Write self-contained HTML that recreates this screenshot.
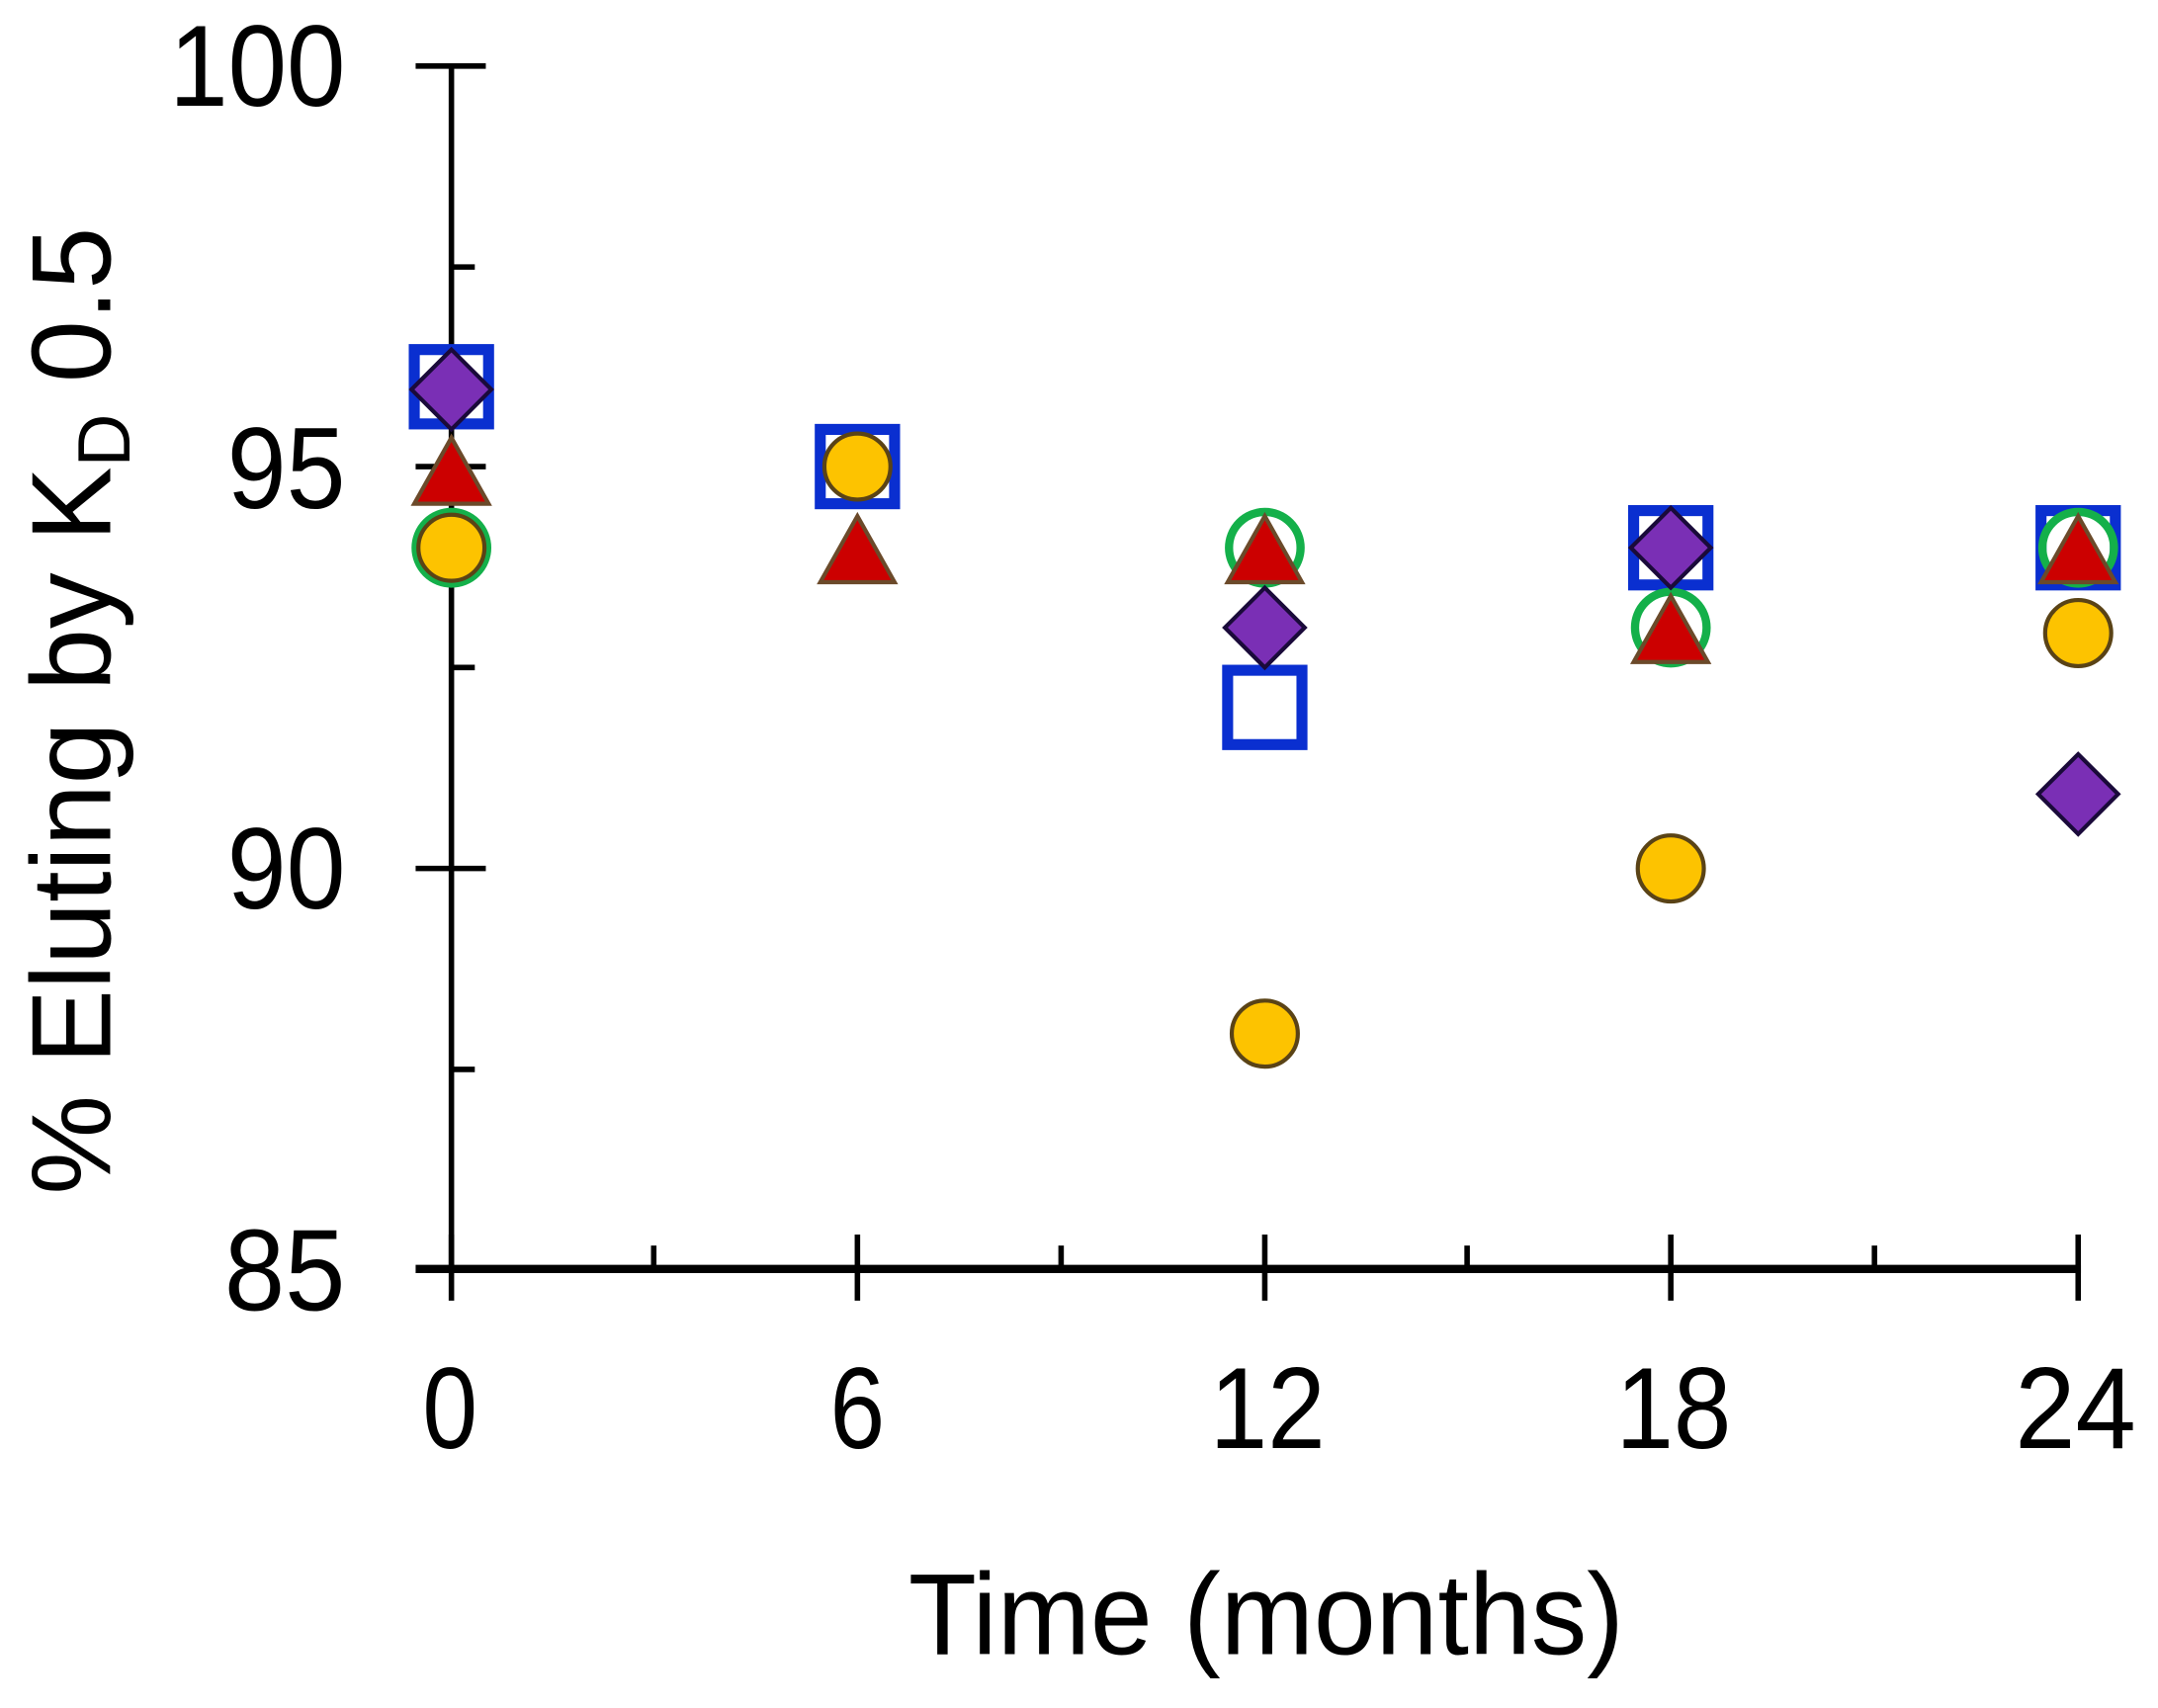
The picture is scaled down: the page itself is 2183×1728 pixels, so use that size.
<!DOCTYPE html>
<html><head><meta charset="utf-8"><style>
html,body{margin:0;padding:0;background:#fff;}
svg{display:block;}
text{font-family:"Liberation Sans",sans-serif;fill:#000;}
</style></head><body>
<svg width="2183" height="1728" viewBox="0 0 1568 1241" preserveAspectRatio="none" xmlns="http://www.w3.org/2000/svg">
<rect width="1568" height="1241" fill="#fff"/>
<g stroke="#000" stroke-width="4" fill="none">
<line x1="328" y1="48" x2="328" y2="924"/>
<line x1="302" y1="922" x2="1512" y2="922" stroke-width="6"/>
<line x1="302" y1="48" x2="353" y2="48"/>
<line x1="302" y1="339" x2="353" y2="339"/>
<line x1="302" y1="631" x2="353" y2="631"/>
<line x1="328" y1="194" x2="345" y2="194"/>
<line x1="328" y1="485" x2="345" y2="485"/>
<line x1="328" y1="777" x2="345" y2="777"/>
<line x1="328" y1="897" x2="328" y2="945"/>
<line x1="623" y1="897" x2="623" y2="945"/>
<line x1="919" y1="897" x2="919" y2="945"/>
<line x1="1214" y1="897" x2="1214" y2="945"/>
<line x1="1510" y1="897" x2="1510" y2="945"/>
<line x1="475" y1="905" x2="475" y2="922"/>
<line x1="771" y1="905" x2="771" y2="922"/>
<line x1="1066" y1="905" x2="1066" y2="922"/>
<line x1="1362" y1="905" x2="1362" y2="922"/>
</g>
<g font-size="84" text-anchor="end">
<text x="251" y="77" textLength="128" lengthAdjust="spacingAndGlyphs">100</text>
<text x="251" y="369" textLength="86" lengthAdjust="spacingAndGlyphs">95</text>
<text x="251" y="660" textLength="86" lengthAdjust="spacingAndGlyphs">90</text>
<text x="251" y="952" textLength="88" lengthAdjust="spacingAndGlyphs">85</text>
</g>
<g font-size="84" text-anchor="middle">
<text x="327" y="1052" textLength="40" lengthAdjust="spacingAndGlyphs">0</text>
<text x="623" y="1052" textLength="40" lengthAdjust="spacingAndGlyphs">6</text>
<text x="921" y="1052" textLength="84" lengthAdjust="spacingAndGlyphs">12</text>
<text x="1216" y="1052" textLength="84" lengthAdjust="spacingAndGlyphs">18</text>
<text x="1508" y="1052" textLength="88" lengthAdjust="spacingAndGlyphs">24</text>
<text x="920" y="1202" textLength="520" lengthAdjust="spacingAndGlyphs">Time (months)</text>
</g>
<text transform="translate(80,868) rotate(-90)" font-size="82" textLength="703" lengthAdjust="spacingAndGlyphs">% Eluting by K<tspan font-size="54" dy="14">D</tspan><tspan dy="-14"> 0.5</tspan></text>

<defs>
<g id="sq"><rect x="-27" y="-27" width="54" height="54" fill="none" stroke="#0a2fd0" stroke-width="8"/></g>
<g id="gc"><circle r="26" fill="none" stroke="#14b04a" stroke-width="6"/></g>
<g id="tr"><polygon points="0,-25 27,23 -27,23" fill="#cc0000" stroke="#6b4a2a" stroke-width="3"/></g>
<g id="yc"><circle r="24" fill="#fdc300" stroke="#5a4316" stroke-width="3"/></g>
<g id="di"><polygon points="0,-29 29,0 0,29 -29,0" fill="#7a2fb5" stroke="#1a0a3a" stroke-width="3"/></g>
</defs>
<use href="#sq" x="328" y="281"/>
<use href="#sq" x="623" y="339"/>
<use href="#sq" x="919" y="514"/>
<use href="#sq" x="1214" y="398"/>
<use href="#sq" x="1510" y="398"/>
<use href="#gc" x="328" y="398"/>
<use href="#gc" x="919" y="398"/>
<use href="#gc" x="1214" y="456"/>
<use href="#gc" x="1510" y="398"/>
<use href="#tr" x="328" y="343"/>
<use href="#tr" x="623" y="400"/>
<use href="#tr" x="919" y="400"/>
<use href="#tr" x="1214" y="458"/>
<use href="#tr" x="1510" y="400"/>
<use href="#yc" x="328" y="398"/>
<use href="#yc" x="623" y="339"/>
<use href="#yc" x="919" y="751"/>
<use href="#yc" x="1214" y="631"/>
<use href="#yc" x="1510" y="460"/>
<use href="#di" x="328" y="283"/>
<use href="#di" x="919" y="456"/>
<use href="#di" x="1214" y="398"/>
<use href="#di" x="1510" y="577"/>
</svg>
</body></html>
